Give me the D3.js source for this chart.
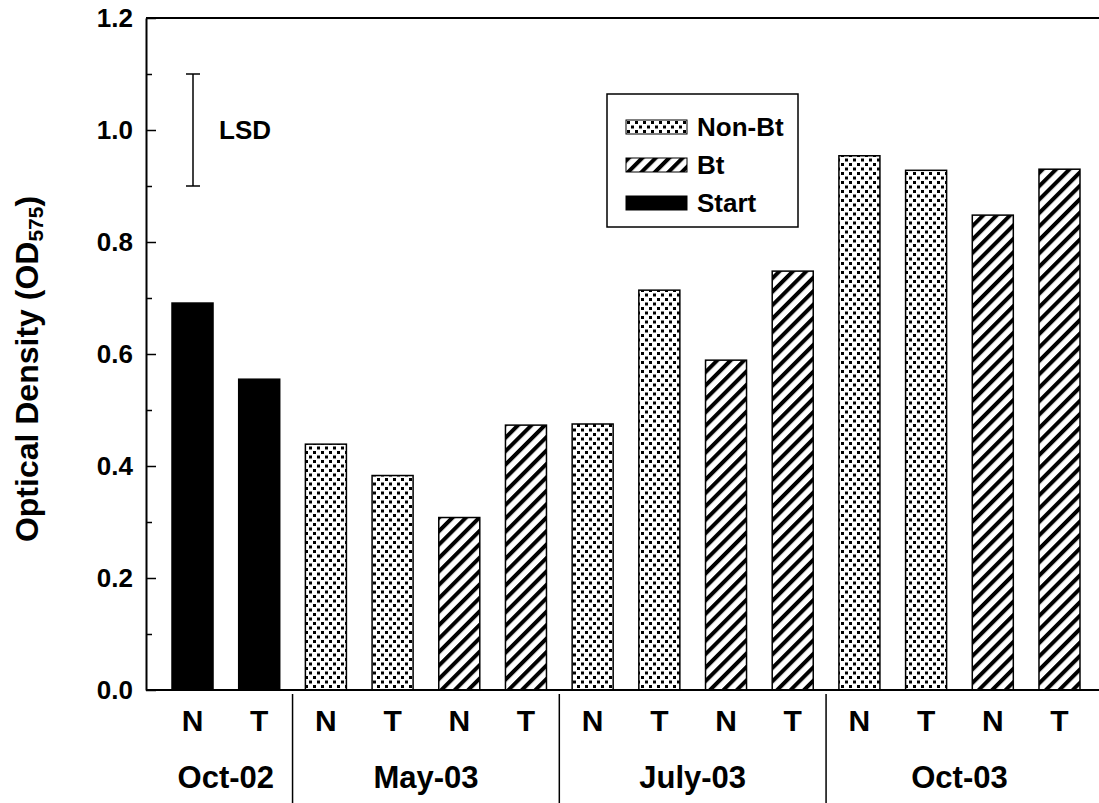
<html>
<head>
<script src='https://d3js.org/d3.v7.min.js'></script>
<style>
body { margin: 0; background: #fff; }
text { font-family: "Liberation Sans", Arial, sans-serif; font-weight: bold; fill: #000; }
</style>
</head>
<body>
<svg class="chart" width=1099 height=803></svg>
<script>

// data
const barLabels = ["N","T","N","T","N","T","N","T","N","T","N","T","N","T"];
const barGroups = ["Oct-02","Oct-02","May-03","May-03","May-03","May-03",
                   "July-03","July-03","July-03","July-03","Oct-03","Oct-03","Oct-03","Oct-03"];
const barTypes  = ["Start","Start","Non-Bt","Non-Bt","Bt","Bt",
                   "Non-Bt","Non-Bt","Bt","Bt","Non-Bt","Non-Bt","Bt","Bt"];
const values    = [0.691,0.555,0.439,0.383,0.308,0.473,
                   0.475,0.714,0.589,0.748,0.954,0.928,0.848,0.930];
const groups    = ["Oct-02","May-03","July-03","Oct-03"];
const legendItems = ["Non-Bt","Bt","Start"];
const yTicks    = [0,0.2,0.4,0.6,0.8,1.0,1.2];
const yMinor    = [0.1,0.3,0.5,0.7,0.9,1.1];
const lsdRange  = [0.9,1.1];

const svg = d3.select(".chart");
const plotLeft = 146, plotTop = 18, plotBottom = 690;

const x = d3.scaleBand().domain(d3.range(values.length))
    .range([plotLeft, 1106]).paddingInner(0.385).paddingOuter(0.39);
const y = d3.scaleLinear().domain([0,1.2]).range([plotBottom, plotTop]);

const fillFor = {"Non-Bt": "url(#dots)", "Bt": "url(#hatch)", "Start": "#000"};

// patterns
const defs = svg.append("defs");
const dots = defs.append("pattern").attr("id","dots")
    .attr("patternUnits","userSpaceOnUse").attr("width",8).attr("height",9);
dots.append("rect").attr("width",8).attr("height",9).attr("fill","#fff");
dots.append("rect").attr("x",1).attr("y",1).attr("width",3).attr("height",3).attr("fill","#000");
dots.append("rect").attr("x",5).attr("y",5.5).attr("width",3).attr("height",3).attr("fill","#000");

const hatch = defs.append("pattern").attr("id","hatch")
    .attr("patternUnits","userSpaceOnUse").attr("width",9.5).attr("height",9.5)
    .attr("patternTransform","rotate(45)");
hatch.append("rect").attr("width",9.5).attr("height",9.5).attr("fill","#fff");
hatch.append("rect").attr("width",4).attr("height",9.5).attr("fill","#000");

// bars
svg.append("g").selectAll("rect")
  .data(values)
  .join("rect")
    .attr("x", (d,i) => x(i))
    .attr("y", d => y(d))
    .attr("width", x.bandwidth())
    .attr("height", d => y(0) - y(d))
    .attr("fill", (d,i) => fillFor[barTypes[i]])
    .attr("stroke", "#000")
    .attr("stroke-width", 1.5);

// frame: top line and baseline
svg.append("line").attr("x1",plotLeft).attr("x2",1099).attr("y1",plotTop).attr("y2",plotTop)
   .attr("stroke","#000").attr("stroke-width",2);
svg.append("line").attr("x1",plotLeft).attr("x2",1099).attr("y1",plotBottom).attr("y2",plotBottom)
   .attr("stroke","#000").attr("stroke-width",2);

// y axis
const yAxis = svg.append("g")
   .attr("transform",`translate(${plotLeft},0)`)
   .call(d3.axisLeft(y).tickValues(yTicks).tickFormat(d3.format(".1f"))
         .tickSize(-10).tickSizeOuter(0).tickPadding(13));
yAxis.select(".domain").attr("stroke-width",2);
yAxis.selectAll(".tick line").attr("stroke-width",1.5);
yAxis.selectAll("text").attr("font-size",26).attr("font-family",null).attr("fill","#000");

const yAxisMinor = svg.append("g")
   .attr("transform",`translate(${plotLeft},0)`)
   .call(d3.axisLeft(y).tickValues(yMinor).tickFormat("").tickSize(-6).tickSizeOuter(0));
yAxisMinor.select(".domain").remove();
yAxisMinor.selectAll(".tick line").attr("stroke-width",1.5);

// y label
svg.append("text")
   .attr("transform","translate(38,369) rotate(-90)")
   .attr("text-anchor","middle")
   .attr("font-size",32)
   .call(t => {
      t.append("tspan").text("Optical Density (OD");
      t.append("tspan").attr("font-size",21).attr("dy",5).text("575");
      t.append("tspan").attr("dy",-5).text(")");
   });

// x category labels
const xAxis = svg.append("g")
   .attr("transform",`translate(0,${plotBottom})`)
   .call(d3.axisBottom(x).tickSize(0).tickPadding(20).tickFormat(i => barLabels[i]));
xAxis.select(".domain").remove();
xAxis.selectAll("text").attr("font-size",30).attr("font-family",null).attr("fill","#000");

// group labels and separators
const step = x.step();
groups.forEach((g, gi) => {
  const idx = d3.range(values.length).filter(i => barGroups[i] === g);
  const x0 = x(idx[0]), x1 = x(idx[idx.length-1]) + x.bandwidth();
  svg.append("text")
     .attr("x", (x0 + x1) / 2).attr("y", 788)
     .attr("text-anchor","middle").attr("font-size",31).text(g);
  if (gi < groups.length - 1) {
    const sx = x1 + (step - x.bandwidth()) / 2;
    svg.append("line").attr("x1",sx).attr("x2",sx).attr("y1",694).attr("y2",803)
       .attr("stroke","#000").attr("stroke-width",1.5);
  }
});

// LSD bar
const lsdX = 193;
const lsd = svg.append("g").attr("stroke","#000").attr("stroke-width",1.5);
lsd.append("line").attr("x1",lsdX).attr("x2",lsdX).attr("y1",y(lsdRange[0])).attr("y2",y(lsdRange[1]));
lsdRange.forEach(v => lsd.append("line").attr("x1",lsdX-7).attr("x2",lsdX+7).attr("y1",y(v)).attr("y2",y(v)));
svg.append("text").attr("x",219).attr("y",y(d3.mean(lsdRange)) + 9).attr("font-size",26).text("LSD");

// legend
const legend = svg.append("g").attr("transform","translate(607,94)");
legend.append("rect").attr("width",191).attr("height",133)
   .attr("fill","#fff").attr("stroke","#000").attr("stroke-width",1.5);
legendItems.forEach((k, i) => {
  const row = legend.append("g").attr("transform",`translate(19,${26 + i*38})`);
  row.append("rect").attr("width",61).attr("height",14)
     .attr("fill",fillFor[k]).attr("stroke","#000").attr("stroke-width",1);
  row.append("text").attr("x",71).attr("y",16).attr("font-size",26).text(k);
});

</script>
</body>
</html>
